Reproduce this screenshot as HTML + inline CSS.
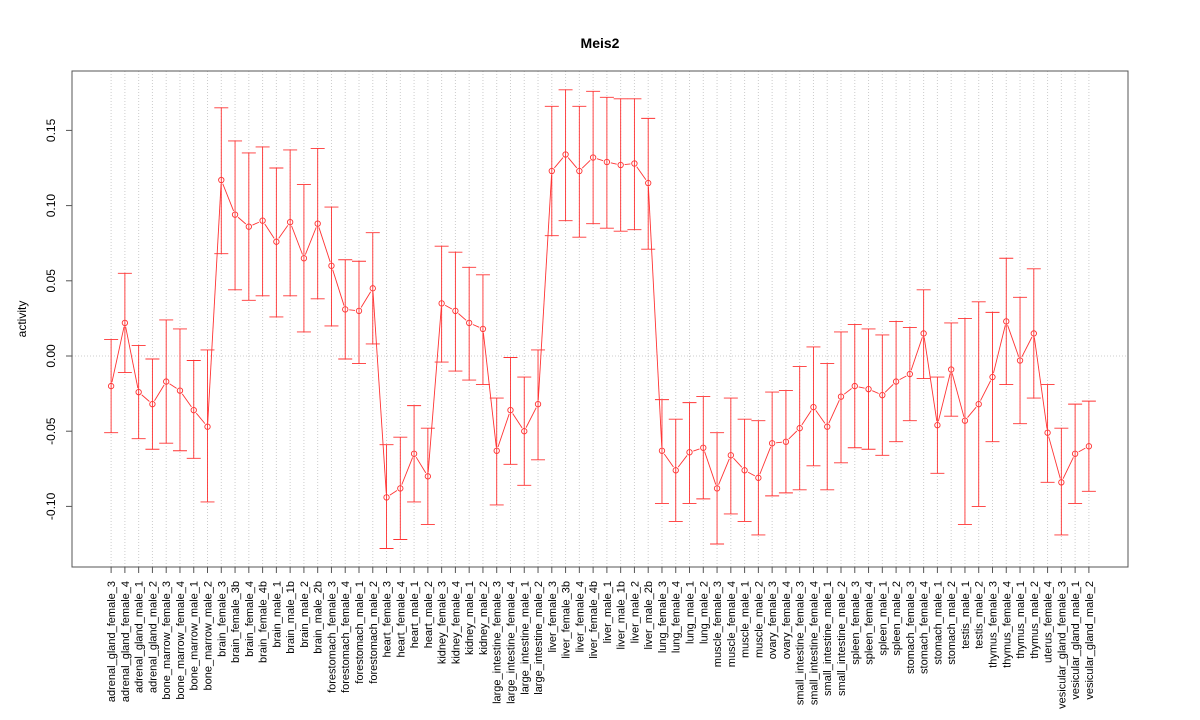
<!DOCTYPE html>
<html><head><meta charset="utf-8"><style>body{margin:0;background:#fff}svg{display:block;font-family:"Liberation Sans",Arial,sans-serif}</style></head>
<body>
<svg id="chart" width="1200" height="720" viewBox="0 0 1200 720" xmlns="http://www.w3.org/2000/svg">
<text x="600" y="48" text-anchor="middle" font-size="14" font-weight="bold">Meis2</text>
<text transform="translate(26,319) rotate(-90)" text-anchor="middle" font-size="12">activity</text>
<g id="grid"></g>
<g id="yaxis"></g>
<g id="xaxis"></g>
<g id="series"></g>
<rect x="72" y="71" width="1056" height="496" fill="none" stroke="#555" stroke-width="1"/>
</svg>
<script>
const categories=["adrenal_gland_female_3","adrenal_gland_female_4","adrenal_gland_male_1","adrenal_gland_male_2","bone_marrow_female_3","bone_marrow_female_4","bone_marrow_male_1","bone_marrow_male_2","brain_female_3","brain_female_3b","brain_female_4","brain_female_4b","brain_male_1","brain_male_1b","brain_male_2","brain_male_2b","forestomach_female_3","forestomach_female_4","forestomach_male_1","forestomach_male_2","heart_female_3","heart_female_4","heart_male_1","heart_male_2","kidney_female_3","kidney_female_4","kidney_male_1","kidney_male_2","large_intestine_female_3","large_intestine_female_4","large_intestine_male_1","large_intestine_male_2","liver_female_3","liver_female_3b","liver_female_4","liver_female_4b","liver_male_1","liver_male_1b","liver_male_2","liver_male_2b","lung_female_3","lung_female_4","lung_male_1","lung_male_2","muscle_female_3","muscle_female_4","muscle_male_1","muscle_male_2","ovary_female_3","ovary_female_4","small_intestine_female_3","small_intestine_female_4","small_intestine_male_1","small_intestine_male_2","spleen_female_3","spleen_female_4","spleen_male_1","spleen_male_2","stomach_female_3","stomach_female_4","stomach_male_1","stomach_male_2","testis_male_1","testis_male_2","thymus_female_3","thymus_female_4","thymus_male_1","thymus_male_2","uterus_female_4","vesicular_gland_female_3","vesicular_gland_male_1","vesicular_gland_male_2"];
const means=[-0.020,0.022,-0.024,-0.032,-0.017,-0.023,-0.036,-0.047,0.117,0.094,0.086,0.090,0.076,0.089,0.065,0.088,0.060,0.031,0.030,0.045,-0.094,-0.088,-0.065,-0.080,0.035,0.030,0.022,0.018,-0.063,-0.036,-0.050,-0.032,0.123,0.134,0.123,0.132,0.129,0.127,0.128,0.115,-0.063,-0.076,-0.064,-0.061,-0.088,-0.066,-0.076,-0.081,-0.058,-0.057,-0.048,-0.034,-0.047,-0.027,-0.020,-0.022,-0.026,-0.017,-0.012,0.015,-0.046,-0.009,-0.043,-0.032,-0.014,0.023,-0.003,0.015,-0.051,-0.084,-0.065,-0.060];
const lowers=[-0.051,-0.011,-0.055,-0.062,-0.058,-0.063,-0.068,-0.097,0.068,0.044,0.037,0.040,0.026,0.040,0.016,0.038,0.020,-0.002,-0.005,0.008,-0.128,-0.122,-0.097,-0.112,-0.004,-0.010,-0.016,-0.019,-0.099,-0.072,-0.086,-0.069,0.080,0.090,0.079,0.088,0.085,0.083,0.084,0.071,-0.098,-0.110,-0.098,-0.095,-0.125,-0.105,-0.110,-0.119,-0.093,-0.091,-0.089,-0.073,-0.089,-0.071,-0.061,-0.062,-0.066,-0.057,-0.043,-0.015,-0.078,-0.040,-0.112,-0.100,-0.057,-0.019,-0.045,-0.028,-0.084,-0.119,-0.098,-0.090];
const uppers=[0.011,0.055,0.007,-0.002,0.024,0.018,-0.003,0.004,0.165,0.143,0.135,0.139,0.125,0.137,0.114,0.138,0.099,0.064,0.063,0.082,-0.059,-0.054,-0.033,-0.048,0.073,0.069,0.059,0.054,-0.028,-0.001,-0.014,0.004,0.166,0.177,0.166,0.176,0.172,0.171,0.171,0.158,-0.029,-0.042,-0.031,-0.027,-0.051,-0.028,-0.042,-0.043,-0.024,-0.023,-0.007,0.006,-0.005,0.016,0.021,0.018,0.014,0.023,0.019,0.044,-0.014,0.022,0.025,0.036,0.029,0.065,0.039,0.058,-0.019,-0.048,-0.032,-0.030];
const yTicks=[-0.10,-0.05,0.00,0.05,0.10,0.15];
const yTickLabels=["-0.10","-0.05","0.00","0.05","0.10","0.15"];

const NS="http://www.w3.org/2000/svg";
const L=72,R=1128,T=71,B=567;
const n=categories.length, pad=(n-1)*0.04;
const xS=i=>L+(i+pad)*(R-L)/((n-1)+2*pad);
const yS=v=>356-v*1504;
function mk(tag,attrs,parent){const e=document.createElementNS(NS,tag);for(const k in attrs)e.setAttribute(k,attrs[k]);parent.appendChild(e);return e;}
const grid=document.getElementById('grid'),ya=document.getElementById('yaxis'),xa=document.getElementById('xaxis'),se=document.getElementById('series');
categories.forEach((c,i)=>{
  const g=mk('line',{x1:xS(i),x2:xS(i),y1:T,y2:B,stroke:'#ccc','stroke-dasharray':'1,2'},grid);
  
  
  const t=mk('line',{x1:xS(i),x2:xS(i),y1:B,y2:B+6,stroke:'#555'},xa);
  
  
  const tx=mk('text',{transform:`translate(${xS(i)+4},${B+14}) rotate(-90)`,'text-anchor':'end','font-size':'11'},xa);
  tx.textContent=c;
  
  
});
const z=mk('line',{x1:L,x2:R,y1:yS(0),y2:yS(0),stroke:'#ccc','stroke-dasharray':'1,2'},grid);


mk('line',{x1:L,x2:L,y1:yS(yTicks[0]),y2:yS(yTicks[yTicks.length-1]),stroke:'#555'},ya);
yTicks.forEach((v,k)=>{
  const t=mk('line',{x1:L-6,x2:L,y1:yS(v),y2:yS(v),stroke:'#555'},ya);
  
  
  const tx=mk('text',{transform:`translate(${L-17},${yS(v)}) rotate(-90)`,'text-anchor':'middle','font-size':'12'},ya);
  tx.textContent=yTickLabels[k];
  
  
});
const red='#f33';
for(let i=0;i<n-1;i++){
  const x1=xS(i),y1=yS(means[i]),x2=xS(i+1),y2=yS(means[i+1]);
  const dx=x2-x1,dy=y2-y1,d=Math.hypot(dx,dy);
  if(d>8){const ux=dx/d,uy=dy/d;
    const s=mk('line',{x1:x1+ux*4,y1:y1+uy*4,x2:x2-ux*4,y2:y2-uy*4,stroke:red,'stroke-width':0.9},se);
    
    }
}
categories.forEach((c,i)=>{
  const x=xS(i);
  const e=mk('path',{d:`M${x},${yS(lowers[i])}V${yS(uppers[i])}M${x-7},${yS(lowers[i])}H${x+7}M${x-7},${yS(uppers[i])}H${x+7}`,stroke:red,fill:'none','stroke-width':0.9},se);
  
  
  const p=mk('circle',{cx:x,cy:yS(means[i]),r:2.7,fill:'none',stroke:red,'stroke-width':0.9},se);
  
  
});
</script>
</body></html>
